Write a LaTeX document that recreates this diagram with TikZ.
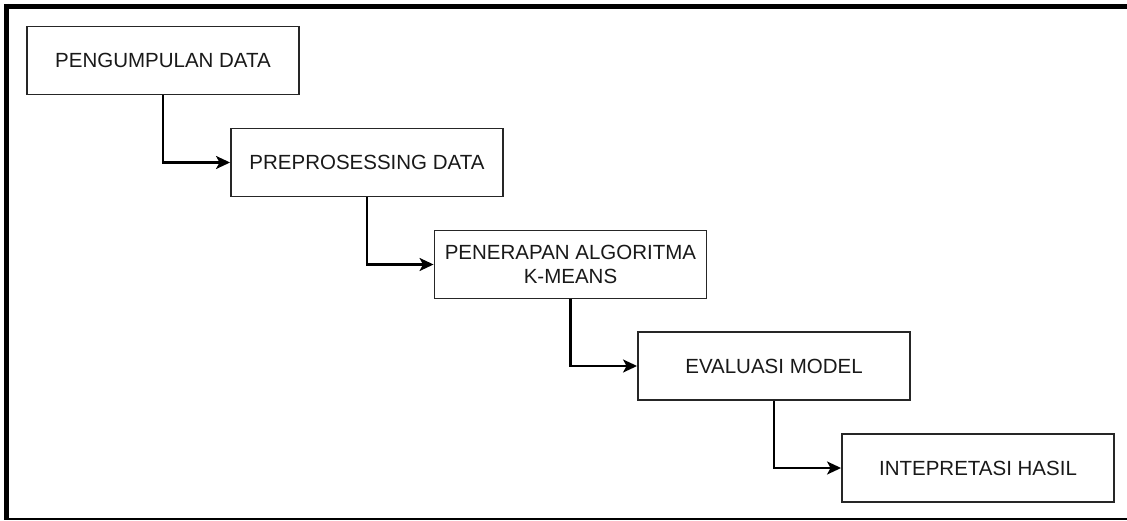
\documentclass[tikz,border=0pt]{standalone}
\usepackage{fontspec}
\setmainfont{Liberation Sans}
\usetikzlibrary{arrows.meta}
\begin{document}
\begin{tikzpicture}[x=1pt,y=-1pt,
  stepbox/.style={draw=black!85,line width=1.9pt,minimum width=272pt,minimum height=68pt,inner sep=0pt,align=center,font=\fontsize{20.5}{23.5}\selectfont,text=black!90},
  conn/.style={line width=2.2pt,-{Stealth[length=14pt,width=13pt,inset=3.5pt]}}]
\useasboundingbox (0,0) rectangle (1127,521);
\fill[white] (0,0) rectangle (1127,521);
% frame
\draw[line width=5pt] (4,6.5) -- (1127,6.5);
\draw[line width=5pt] (6.5,4) -- (6.5,519);
\draw[line width=1.8pt] (4,519) -- (1127,519);
% boxes
\node[stepbox] (b1) at (163,60.5) {PENGUMPULAN DATA};
\node[stepbox] (b2) at (367,162.5) {PREPROSESSING DATA};
\node[stepbox] (b3) at (570.5,264.5) {PENERAPAN ALGORITMA\\K-MEANS};
\node[stepbox] (b4) at (774,366) {EVALUASI MODEL};
\node[stepbox] (b5) at (978,468) {INTEPRETASI HASIL};
% connectors
\draw[conn] (b1.south) |- (b2.west);
\draw[conn] (b2.south) |- (b3.west);
\draw[conn] (b3.south) |- (b4.west);
\draw[conn] (b4.south) |- (b5.west);
\end{tikzpicture}
\end{document}
